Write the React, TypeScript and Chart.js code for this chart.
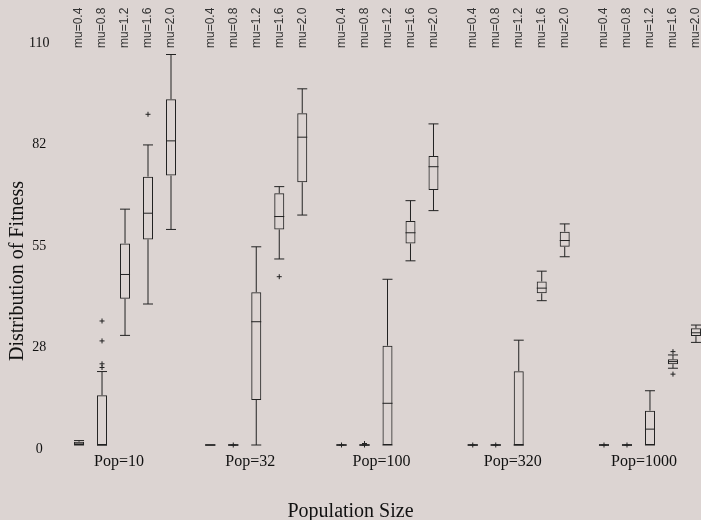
import React, { useEffect, useRef } from 'react';
import { Chart, registerables } from 'chart.js';

Chart.register(...registerables);

// Categories
const POP_LABELS = ['Pop=10', 'Pop=32', 'Pop=100', 'Pop=320', 'Pop=1000'];
const MU_LABELS = ['mu=0.4', 'mu=0.8', 'mu=1.2', 'mu=1.6', 'mu=2.0'];

// Box statistics per mu series, one entry per population: [min, q1, median, q3, max]
const MU04_STATS = [
  [0, 0, 0.3, 0.9, 1.2],
  [0, 0, 0, 0, 0],
  [0, 0, 0, 0, 0],
  [0, 0, 0, 0, 0],
  [0, 0, 0, 0, 0],
];
const MU08_STATS = [
  [0, 0, 0, 13.5, 19.9],
  [0, 0, 0, 0, 0],
  [0, 0, 0, 0, 0],
  [0, 0, 0, 0, 0],
  [0, 0, 0, 0, 0],
];
const MU12_STATS = [
  [29.7, 39.6, 46.2, 54.6, 63.9],
  [0, 12.2, 33.4, 41.4, 53.7],
  [0, 0, 11.3, 26.9, 44.9],
  [0, 0, 0, 20.0, 28.4],
  [0, 0, 4.3, 9.3, 14.7],
];
const MU16_STATS = [
  [38.2, 55.7, 62.8, 72.7, 81.3],
  [50.4, 58.4, 61.9, 68.2, 70.0],
  [49.9, 54.6, 57.5, 60.7, 66.2],
  [39.1, 41.1, 42.5, 44.3, 47.1],
  [20.8, 21.9, 22.6, 23.2, 24.4],
];
const MU20_STATS = [
  [58.4, 73.0, 82.4, 93.7, 105.8],
  [62.3, 71.2, 83.4, 89.9, 96.5],
  [63.5, 69.1, 75.4, 78.3, 87.0],
  [51.0, 53.7, 55.4, 57.8, 59.9],
  [27.8, 29.5, 30.4, 31.6, 32.5],
];

// Outliers per mu series, one list per population
const MU04_OUTLIERS = [[], [], [0], [0], [0]];
const MU08_OUTLIERS = [[21.0, 22.0, 28.2, 33.6], [0], [0, 0.4], [0], [0]];
const MU12_OUTLIERS = [[], [], [], [], []];
const MU16_OUTLIERS = [[89.6], [45.6], [], [], [25.3, 19.2]];
const MU20_OUTLIERS = [[], [], [], [], []];

// Axis ticks
const Y_TICKS = [0, 27.5, 55, 82.5, 110];
const Y_TICK_LABELS = ['0', '28', '55', '82', '110'];

const X_TITLE = 'Population Size';
const Y_TITLE = 'Distribution of Fitness';

const STATS = [MU04_STATS, MU08_STATS, MU12_STATS, MU16_STATS, MU20_STATS];
const OUTLIERS = [MU04_OUTLIERS, MU08_OUTLIERS, MU12_OUTLIERS, MU16_OUTLIERS, MU20_OUTLIERS];

const CANVAS_W = 740;
const CANVAS_H = 520;
const VIEW_W = 701;
const INK = '#222222';
const SERIF = '"Liberation Serif", "Times New Roman", serif';
const SANS = '"Liberation Sans", Arial, sans-serif';

const boxPlugin = {
  id: 'boxDecor',
  beforeDraw(chart: any) {
    const ctx = chart.ctx;
    ctx.save();
    ctx.fillStyle = '#dcd4d2';
    ctx.fillRect(0, 0, chart.width, chart.height);
    ctx.restore();
  },
  afterDatasetsDraw(chart: any) {
    const ctx = chart.ctx;
    const yScale = chart.scales.y;
    const py = (v: number) => yScale.getPixelForValue(v);
    ctx.save();
    ctx.strokeStyle = INK;
    ctx.lineWidth = 1;
    const line = (x1: number, y1: number, x2: number, y2: number) => {
      ctx.beginPath();
      ctx.moveTo(x1, y1);
      ctx.lineTo(x2, y2);
      ctx.stroke();
    };
    STATS.forEach((series, di) => {
      const meta = chart.getDatasetMeta(di);
      meta.data.forEach((bar: any, i: number) => {
        const { x, width } = bar.getProps(['x', 'width'], true);
        const half = width / 2;
        const [mn, q1, md, q3, mx] = series[i];
        line(x, py(mx), x, py(q3));
        line(x, py(q1), x, py(mn));
        line(x - half, py(mx), x + half, py(mx));
        line(x - half, py(mn), x + half, py(mn));
        line(x - half, py(md), x + half, py(md));
        OUTLIERS[di][i].forEach((v: number) => {
          const yy = py(v);
          line(x - 2.5, yy, x + 2.5, yy);
          line(x, yy - 2.5, x, yy + 2.5);
        });
        if (i >= 0) {
          ctx.save();
          ctx.fillStyle = '#333333';
          ctx.font = `12px ${SANS}`;
          ctx.translate(x, chart.chartArea.top + 9);
          ctx.rotate(-Math.PI / 2);
          ctx.textAlign = 'left';
          ctx.textBaseline = 'middle';
          ctx.fillText(MU_LABELS[di], 0, 0);
          ctx.restore();
        }
      });
    });
    // Axis titles
    ctx.fillStyle = '#111111';
    ctx.font = `20px ${SERIF}`;
    ctx.textAlign = 'center';
    ctx.textBaseline = 'alphabetic';
    ctx.fillText(X_TITLE, VIEW_W / 2, 517);
    ctx.save();
    ctx.translate(22.5, 271);
    ctx.rotate(-Math.PI / 2);
    ctx.fillText(Y_TITLE, 0, 0);
    ctx.restore();
    ctx.restore();
  },
};

export default function App() {
  const canvasRef = useRef<HTMLCanvasElement | null>(null);

  useEffect(() => {
    const canvas = canvasRef.current;
    if (!canvas) return;
    const chart = new Chart(canvas, {
      type: 'bar',
      data: {
        labels: POP_LABELS,
        datasets: STATS.map((series, di) => ({
          label: MU_LABELS[di],
          data: series.map((s) => [s[1], s[3]]),
          backgroundColor: 'rgba(0,0,0,0)',
          borderColor: INK,
          borderWidth: 1,
          borderSkipped: false,
          categoryPercentage: 0.876,
          barPercentage: 0.435,
        })) as any,
      },
      options: {
        responsive: false,
        animation: false,
        events: [],
        layout: { padding: { left: 6, top: 39, right: CANVAS_W - 715.6, bottom: 0 } },
        plugins: { legend: { display: false }, tooltip: { enabled: false } },
        scales: {
          x: {
            grid: { display: false, drawTicks: false },
            border: { display: false },
            ticks: {
              color: '#111111',
              font: { family: SERIF, size: 16 },
              padding: 7,
              labelOffset: -6,
              maxRotation: 0,
              autoSkip: false,
            },
            afterFit: (scale: any) => {
              scale.height = 75;
            },
          },
          y: {
            min: 0,
            max: 110,
            grid: { display: false, drawTicks: false },
            border: { display: false },
            afterBuildTicks: (scale: any) => {
              scale.ticks = Y_TICKS.map((v) => ({ value: v }));
            },
            ticks: {
              color: '#111111',
              font: { family: SERIF, size: 14 },
              padding: 10,
              crossAlign: 'center',
              labelOffset: 4,
              callback: (_v: any, idx: number) => Y_TICK_LABELS[idx],
            },
            afterFit: (scale: any) => {
              scale.width = 53.4;
            },
          },
        },
      } as any,
      plugins: [boxPlugin],
    });
    return () => chart.destroy();
  }, []);

  return (
    <div
      style={{
        position: 'fixed',
        left: 0,
        top: 0,
        width: VIEW_W,
        height: CANVAS_H,
        overflow: 'hidden',
      }}
    >
      <canvas ref={canvasRef} width={CANVAS_W} height={CANVAS_H} style={{ display: 'block' }} />
    </div>
  );
}
